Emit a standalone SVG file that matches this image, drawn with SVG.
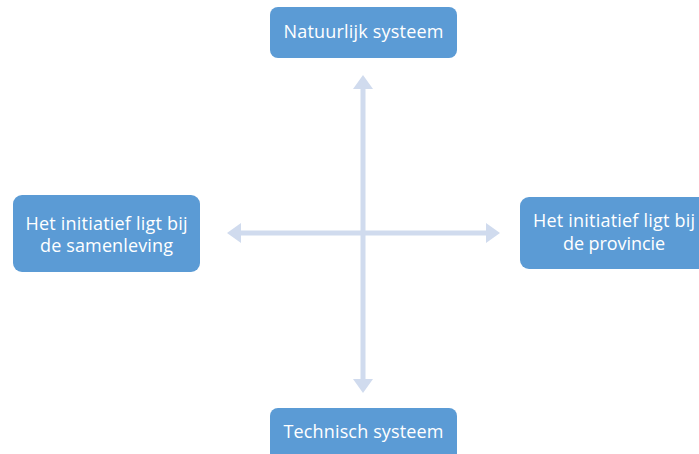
<svg xmlns="http://www.w3.org/2000/svg" width="699" height="454" viewBox="0 0 699 454">
<style>
.box{fill:#5B9BD5;}
.lbl{fill:#FFFFFF;font-family:"Open Sans","Liberation Sans",sans-serif;font-size:18px;text-anchor:middle;}
.ax{stroke:#D0DBEE;stroke-width:5;fill:none;}
.hd{fill:#D0DBEE;}
</style>
<rect width="699" height="454" fill="#FFFFFF"/>
<g id="connectors">
<line class="ax" x1="363" y1="86" x2="363" y2="382"/>
<polygon class="hd" points="363,75 353,89 373,89"/>
<polygon class="hd" points="363,393 353,379 373,379"/>
<line class="ax" x1="238" y1="233" x2="488" y2="233"/>
<polygon class="hd" points="227,233 241,223 241,243"/>
<polygon class="hd" points="500,233 486,223 486,243"/>
</g>
<g id="node-top">
<rect class="box" x="270" y="7" width="187" height="51" rx="8"/>
<text class="lbl" x="363.5" y="38" textLength="160">Natuurlijk systeem</text>
</g>
<g id="node-left">
<rect class="box" x="13" y="195" width="187" height="77" rx="9"/>
<text class="lbl" x="106.5" y="230" textLength="162">Het initiatief ligt bij</text>
<text class="lbl" x="106.5" y="252" textLength="133">de samenleving</text>
</g>
<g id="node-right">
<rect class="box" x="520" y="197" width="187" height="72" rx="9"/>
<text class="lbl" x="614" y="227" textLength="162">Het initiatief ligt bij</text>
<text class="lbl" x="614" y="250" textLength="102">de provincie</text>
</g>
<g id="node-bottom">
<rect class="box" x="270" y="408" width="187" height="56" rx="8"/>
<text class="lbl" x="363.5" y="438" textLength="160">Technisch systeem</text>
</g>
</svg>
